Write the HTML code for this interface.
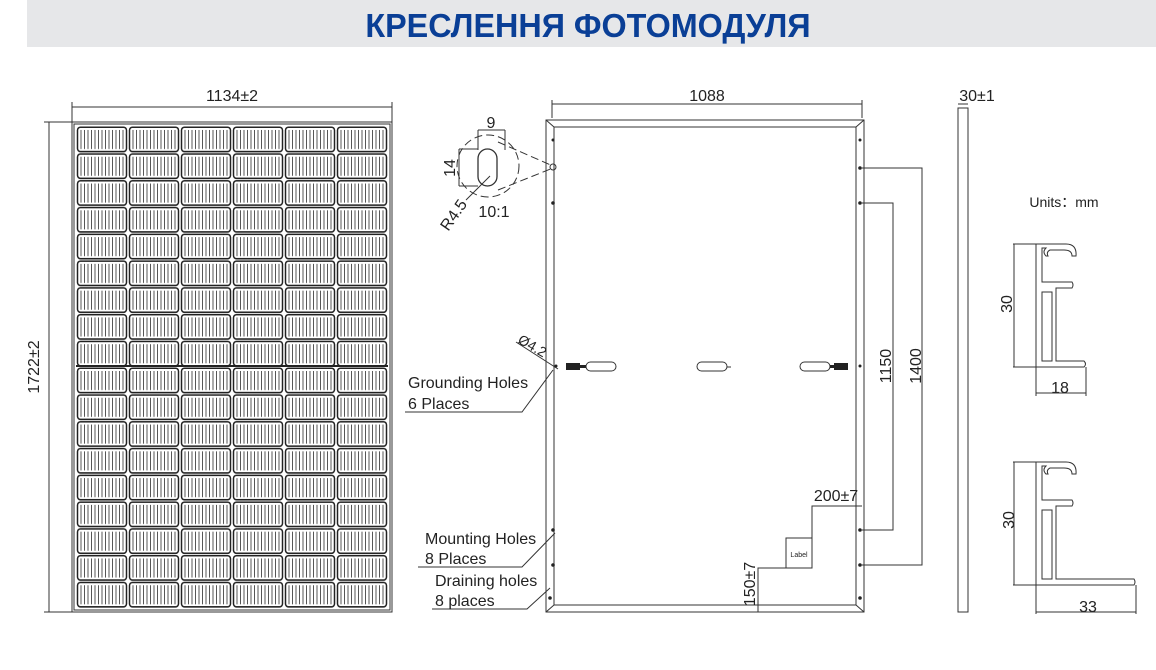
<!DOCTYPE html>
<html><head><meta charset="utf-8"><style>
html,body{margin:0;padding:0;background:#fff;width:1156px;height:670px;overflow:hidden}
svg{display:block}
text{font-family:"Liberation Sans",Arial,sans-serif;fill:#222}
</style></head><body>
<svg width="1156" height="670" viewBox="0 0 1156 670" xmlns="http://www.w3.org/2000/svg">
<defs>
<pattern id="cell" x="76" y="126" width="52" height="26.78" patternUnits="userSpaceOnUse">
<rect x="0" y="0" width="52" height="26.78" fill="#fff"/>
<rect x="1.5" y="1.2" width="49" height="24.4" rx="3" fill="none" stroke="#222" stroke-width="1.5"/>
<g stroke="#444" stroke-width="0.9">
<line x1="5" y1="4" x2="5" y2="23"/><line x1="8.5" y1="4" x2="8.5" y2="23"/><line x1="12" y1="4" x2="12" y2="23"/><line x1="15.5" y1="4" x2="15.5" y2="23"/><line x1="19" y1="4" x2="19" y2="23"/><line x1="22.5" y1="4" x2="22.5" y2="23"/><line x1="26" y1="4" x2="26" y2="23"/><line x1="29.5" y1="4" x2="29.5" y2="23"/><line x1="33" y1="4" x2="33" y2="23"/><line x1="36.5" y1="4" x2="36.5" y2="23"/><line x1="40" y1="4" x2="40" y2="23"/><line x1="43.5" y1="4" x2="43.5" y2="23"/><line x1="47" y1="4" x2="47" y2="23"/>
</g>
</pattern>
</defs>
<rect x="27" y="0" width="1129" height="47" fill="#e6e7e9"/>
<text x="588" y="37" text-anchor="middle" font-size="33" font-weight="bold" style="fill:#0a3f96" transform="translate(588 0) scale(0.98 1) translate(-588 0)">КРЕСЛЕННЯ ФОТОМОДУЛЯ</text>

<g fill="none" stroke="#333" stroke-width="1">
<line x1="72" y1="107" x2="392" y2="107"/>
<line x1="72" y1="102" x2="72" y2="122"/><line x1="392" y1="102" x2="392" y2="122"/>
<line x1="44" y1="122" x2="72" y2="122"/><line x1="44" y1="612" x2="72" y2="612"/>
<line x1="49" y1="122" x2="49" y2="612"/>
<rect x="72" y="122" width="320" height="490"/>
<rect x="74" y="124" width="316" height="486"/>
</g>
<rect x="76" y="126" width="312" height="482" fill="url(#cell)"/>
<line x1="76" y1="366" x2="388" y2="366" stroke="#222" stroke-width="2"/>
<g fill="#222" font-size="16">
<text x="232" y="101" text-anchor="middle">1134±2</text>
<text transform="translate(39 367) rotate(-90)" text-anchor="middle">1722±2</text>
</g>

<g fill="none" stroke="#333" stroke-width="1">
<line x1="552" y1="104" x2="862" y2="104"/>
<line x1="552" y1="100" x2="552" y2="118"/><line x1="862" y1="100" x2="862" y2="118"/>
<rect x="546" y="120" width="318" height="492"/>
<rect x="554" y="127" width="302" height="478"/>
<line x1="546" y1="120" x2="554" y2="127"/><line x1="864" y1="120" x2="856" y2="127"/>
<line x1="546" y1="612" x2="554" y2="605"/><line x1="864" y1="612" x2="856" y2="605"/>
<circle cx="488" cy="166" r="31" stroke-dasharray="8 4"/>
<rect x="478" y="149" width="19" height="37" rx="9.5" stroke-width="1.3"/>
<line x1="498" y1="142" x2="553" y2="166" stroke-dasharray="8 4"/>
<line x1="498" y1="190" x2="553" y2="168" stroke-dasharray="8 4"/>
<circle cx="553" cy="167" r="3"/>
<line x1="478" y1="130" x2="505" y2="130"/><line x1="478" y1="130" x2="478" y2="150"/><line x1="505" y1="130" x2="505" y2="150"/>
<line x1="459" y1="149" x2="478" y2="149"/><line x1="459" y1="186" x2="478" y2="186"/><line x1="459" y1="149" x2="459" y2="186"/>
<line x1="490" y1="176" x2="466" y2="200"/>
<polyline points="862,168 922,168 922,565 862,565"/>
<polyline points="862,203 893,203 893,530 862,530"/>
<polyline points="862,506 812,506 812,538"/>
<rect x="786" y="538" width="26" height="30"/>
<polyline points="786,568 758,568 758,612"/>
<line x1="516" y1="342" x2="558" y2="369"/>
<polyline points="405,412 522,412 553,370"/>
<polyline points="418,567 522,567 555,533"/>
<polyline points="432,609 527,609 550,588"/>
<rect x="586" y="362" width="30" height="9" rx="4.5"/>
<rect x="697" y="362" width="30" height="9" rx="4.5"/>
<line x1="727" y1="367" x2="731" y2="367"/>
<rect x="800" y="362" width="30" height="9" rx="4.5"/>
<rect x="958" y="108" width="10" height="504"/>
<line x1="958" y1="104" x2="968" y2="104"/>
</g>
<g fill="#222">
<rect x="566" y="363" width="14" height="7"/><rect x="580" y="365" width="6" height="3"/>
<rect x="834" y="363" width="14" height="7"/><rect x="830" y="365" width="4" height="3"/>
<circle cx="556" cy="366" r="1.5"/><circle cx="860" cy="366" r="1.5"/>
<circle cx="860" cy="168" r="1.8"/><circle cx="860" cy="203" r="1.8"/><circle cx="860" cy="530" r="1.8"/><circle cx="860" cy="565" r="1.8"/>
<circle cx="553" cy="203" r="1.8"/><circle cx="553" cy="530" r="1.8"/><circle cx="553" cy="565" r="1.8"/>
<circle cx="550" cy="598" r="1.8"/><circle cx="860" cy="598" r="1.8"/><circle cx="553" cy="140" r="1.5"/><circle cx="860" cy="140" r="1.5"/>
</g>
<g font-size="16">
<text x="707" y="101" text-anchor="middle">1088</text>
<text x="491" y="128" text-anchor="middle">9</text>
<text transform="translate(455 168) rotate(-90)" text-anchor="middle">14</text>
<text transform="translate(458 218) rotate(-55)" text-anchor="middle">R4.5</text>
<text x="494" y="217" text-anchor="middle">10:1</text>
<text transform="translate(530 350) rotate(30)" text-anchor="middle" font-size="14">Ø4.2</text>
<text x="408" y="388">Grounding Holes</text>
<text x="408" y="409">6 Places</text>
<text x="425" y="544">Mounting Holes</text>
<text x="425" y="564">8 Places</text>
<text x="435" y="586">Draining holes</text>
<text x="435" y="606">8 places</text>
<text transform="translate(891 366) rotate(-90)" text-anchor="middle">1150</text>
<text transform="translate(921 366) rotate(-90)" text-anchor="middle">1400</text>
<text x="836" y="501" text-anchor="middle">200±7</text>
<text transform="translate(755 584) rotate(-90)" text-anchor="middle">150±7</text>
<text x="799" y="557" text-anchor="middle" font-size="7">Label</text>
<text x="977" y="101" text-anchor="middle">30±1</text>
<text x="1064" y="207" text-anchor="middle" font-size="14">Units：mm</text>
<text transform="translate(1012 304) rotate(-90)" text-anchor="middle">30</text>
<text x="1060" y="393" text-anchor="middle">18</text>
<text transform="translate(1014 520) rotate(-90)" text-anchor="middle">30</text>
<text x="1088" y="612" text-anchor="middle">33</text>
</g>
<g fill="none" stroke="#333" stroke-width="1">
<line x1="1013" y1="244" x2="1036" y2="244"/><line x1="1013" y1="367" x2="1036" y2="367"/><line x1="1014" y1="244" x2="1014" y2="367"/>
<line x1="1036" y1="367" x2="1036" y2="396"/><line x1="1086" y1="367" x2="1086" y2="396"/><line x1="1036" y1="393" x2="1086" y2="393"/>
<path d="M1036,244 H1066 Q1077,244 1076,256 L1072,256 Q1072,250 1064,250 H1050 Q1046,252 1048,256 H1046 Q1042,252 1046,248 H1042 V282 H1072 Q1074,285 1072,288 H1056 V361 H1084 Q1087,364 1084,367 H1036 Z"/>
<path d="M1042,292 H1052 V361 H1042 Z"/>
<line x1="1013" y1="462" x2="1036" y2="462"/><line x1="1013" y1="585" x2="1036" y2="585"/><line x1="1014" y1="462" x2="1014" y2="585"/>
<line x1="1036" y1="585" x2="1036" y2="614"/><line x1="1136" y1="585" x2="1136" y2="614"/><line x1="1036" y1="612" x2="1136" y2="612"/>
<path d="M1036,462 H1066 Q1077,462 1076,474 L1072,474 Q1072,468 1064,468 H1050 Q1046,470 1048,474 H1046 Q1042,470 1046,466 H1042 V500 H1072 Q1074,503 1072,506 H1056 V579 H1134 Q1136,582 1134,585 H1036 Z"/>
<path d="M1042,510 H1052 V579 H1042 Z"/>
</g>
</svg>
</body></html>
